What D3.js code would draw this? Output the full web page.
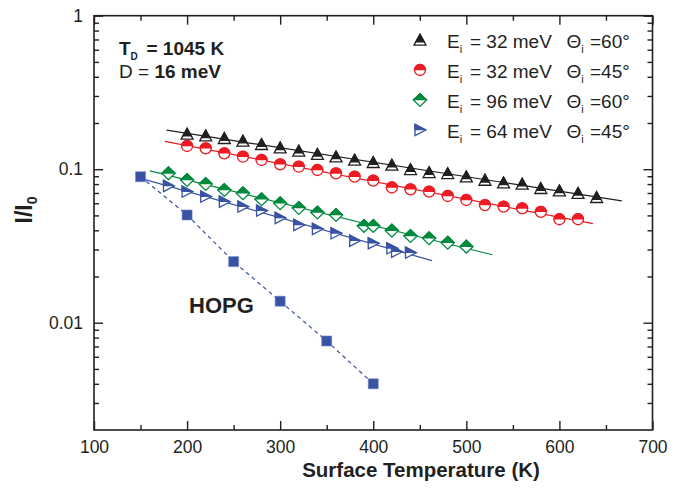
<!DOCTYPE html>
<html><head><meta charset="utf-8">
<script src="https://cdn.jsdelivr.net/npm/d3@7/dist/d3.min.js"></script>
<style>
body{margin:0;background:#fff}
svg{display:block}
text{font-family:"Liberation Sans",Arial,Helvetica,sans-serif;fill:#231f20}
</style>
</head><body>
<svg id="c" width="685" height="491"></svg>
<script>
// ---------------- data ----------------
const tempsBlack = [200,220,240,260,280,300,320,340,360,380,400,420,440,460,480,500,520,540,560,580,600,620,640];
const valsBlack  = [0.1696,0.1653,0.1590,0.1527,0.1453,0.1380,0.1314,0.1251,0.1206,0.1148,0.1109,0.1065,0.0998,0.0954,0.0940,0.0894,0.0850,0.0817,0.0801,0.0751,0.0724,0.0697,0.0656];

const tempsRed = [200,220,240,260,280,300,320,340,360,380,400,420,440,460,480,500,520,540,560,580,600,620];
const valsRed  = [0.1416,0.1368,0.1269,0.1206,0.1148,0.1076,0.1038,0.0988,0.0940,0.0894,0.0842,0.0760,0.0740,0.0714,0.0669,0.0630,0.0584,0.0570,0.0556,0.0528,0.0472,0.0472];

const tempsGreen = [180,200,220,240,260,280,300,320,340,360,390,400,420,440,460,480,500];
const valsGreen  = [0.0940,0.0850,0.0801,0.0732,0.0697,0.0637,0.0600,0.0559,0.0522,0.0503,0.0427,0.0427,0.0398,0.0367,0.0355,0.0332,0.0313];

const tempsBlue = [180,200,220,240,260,280,300,320,340,360,380,400,420,425,440];
const valsBlue  = [0.0777,0.0714,0.0662,0.0614,0.0570,0.0537,0.0481,0.0433,0.0408,0.0382,0.0342,0.0329,0.0305,0.0290,0.0286];

const tempsHOPG = [150,200,250,300,350,400];
const valsHOPG  = [0.0894,0.0503,0.0250,0.0138,0.0076,0.0040];

// temperature span of each exponential fit line
const fitBlack = [178,667];
const fitRed   = [176,636];
const fitGreen = [160,528];
const fitBlue  = [155,463];

const legendEnergy = ["32 meV","32 meV","96 meV","64 meV"];
const legendAngle  = ["60°","45°","60°","45°"];

const xTicksMajor = [100,200,300,400,500,600,700];
const xTicksMinor = [150,250,350,450,550,650];
const yTicksMajor = [1,0.1,0.01];
const yTickLabels = ["1","0.1","0.01"];
const yTicksMinor = [0.003,0.004,0.005,0.006,0.007,0.008,0.009,0.02,0.03,0.04,0.05,0.06,0.07,0.08,0.09,0.2,0.3,0.4,0.5,0.6,0.7,0.8,0.9];

// ---------------- chart ----------------
const L=94,R=652.5,T=15.7,B=430;
const svg=d3.select("#c");
const x=d3.scaleLinear().domain([100,700]).range([L,R]);
const y=d3.scaleLog().domain([0.002,1]).range([B,T]);
const ink="#231f20";

const C={black:"#231f20",red:"#ed1c24",green:"#008a3e",blue:"#3953a4"};

const defs=svg.append("defs");
defs.append("clipPath").attr("id","top").append("rect").attr("x",-12).attr("y",-12).attr("width",24).attr("height",12.3);
defs.append("clipPath").attr("id","topTri").append("rect").attr("x",-12).attr("y",-12).attr("width",24).attr("height",14.6);
defs.append("clipPath").attr("id","plot").append("rect").attr("x",L).attr("y",T).attr("width",R-L).attr("height",B-T);

// axes
function styleAxis(g){g.select(".domain").remove();g.selectAll("line").attr("stroke",ink).attr("stroke-width",1.4);}
function styleText(g){g.selectAll("text").attr("font-size",17.5).attr("fill",ink).attr("font-family",null);}
svg.append("g").attr("transform",`translate(0,${B})`)
  .call(d3.axisBottom(x).tickValues(xTicksMajor).tickSize(-9).tickPadding(11).tickFormat(d3.format("d")))
  .call(styleAxis).call(styleText);
svg.append("g").attr("transform",`translate(0,${B})`)
  .call(d3.axisBottom(x).tickValues(xTicksMinor).tickSize(-5).tickFormat(""))
  .call(styleAxis);
svg.append("g").attr("transform",`translate(0,${T})`)
  .call(d3.axisTop(x).tickValues(xTicksMajor).tickSize(-9).tickFormat(""))
  .call(styleAxis);
svg.append("g").attr("transform",`translate(0,${T})`)
  .call(d3.axisTop(x).tickValues(xTicksMinor).tickSize(-5).tickFormat(""))
  .call(styleAxis);
svg.append("g").attr("transform",`translate(${L},0)`)
  .call(d3.axisLeft(y).tickValues(yTicksMajor).tickSize(-9).tickPadding(11).tickFormat((d,i)=>yTickLabels[i]))
  .call(styleAxis).call(styleText);
svg.append("g").attr("transform",`translate(${L},0)`)
  .call(d3.axisLeft(y).tickValues(yTicksMinor).tickSize(-5).tickFormat(""))
  .call(styleAxis);
svg.append("g").attr("transform",`translate(${R},0)`)
  .call(d3.axisRight(y).tickValues(yTicksMajor).tickSize(-9).tickFormat(""))
  .call(styleAxis);
svg.append("g").attr("transform",`translate(${R},0)`)
  .call(d3.axisRight(y).tickValues(yTicksMinor).tickSize(-5).tickFormat(""))
  .call(styleAxis);

svg.append("rect").attr("x",L).attr("y",T).attr("width",R-L).attr("height",B-T)
  .attr("fill","none").attr("stroke",ink).attr("stroke-width",1.6);

// marker shapes
const shapes={
  triUp:"M0,-5.6L6,5.2L-6,5.2Z",
  circle:"M5.5,0A5.5,5.5 0 1,1 -5.5,0A5.5,5.5 0 1,1 5.5,0Z",
  diamond:"M0,-6.4L6.6,0L0,6.4L-6.6,0Z",
  triRight:"M-5,-5.6L5.8,0L-5,5.6Z",
  square:"M-5,-5H5V5H-5Z"
};
function marker(g,px,py,shape,color){
  const m=g.append("g").attr("transform",`translate(${px},${py})`);
  m.append("path").attr("d",shapes[shape]).attr("fill","#fff").attr("stroke",color).attr("stroke-width",1.3);
  m.append("path").attr("d",shapes[shape]).attr("fill",color).attr("stroke",color).attr("stroke-width",1.3)
    .attr("clip-path",shape==="triUp"?"url(#topTri)":"url(#top)");
}

// fit lines (least squares in log space)
function fit(ts,vs){
  const ly=vs.map(v=>Math.log10(v));
  const mx=d3.mean(ts), my=d3.mean(ly);
  let sxy=0,sxx=0; ts.forEach((t,i)=>{sxy+=(t-mx)*(ly[i]-my);sxx+=(t-mx)*(t-mx);});
  const b=sxy/sxx,a=my-b*mx;
  return t=>Math.pow(10,a+b*t);
}
const line=d3.line().x(d=>x(d[0])).y(d=>y(d[1]));
const series=[
  {t:tempsBlack,v:valsBlack,range:fitBlack,shape:"triUp",c:C.black},
  {t:tempsRed,v:valsRed,range:fitRed,shape:"circle",c:C.red},
  {t:tempsGreen,v:valsGreen,range:fitGreen,shape:"diamond",c:C.green},
  {t:tempsBlue,v:valsBlue,range:fitBlue,shape:"triRight",c:C.blue}
];
const plot=svg.append("g").attr("clip-path","url(#plot)");
series.forEach(s=>{
  const f=fit(s.t,s.v);
  plot.append("path").attr("d",line(s.range.map(t=>[t,f(t)]))).attr("fill","none").attr("stroke",s.c).attr("stroke-width",1.2);
});
// HOPG dashed
plot.append("path").attr("d",line(tempsHOPG.map((t,i)=>[t,valsHOPG[i]])))
  .attr("fill","none").attr("stroke",C.blue).attr("stroke-width",1.2).attr("stroke-dasharray","4,3.5");
series.forEach(s=>{
  s.t.forEach((t,i)=>marker(plot,x(t),y(s.v[i]),s.shape,s.c));
});
tempsHOPG.forEach((t,i)=>{
  plot.append("path").attr("transform",`translate(${x(t)},${y(valsHOPG[i])})`).attr("d",shapes.square)
    .attr("fill",C.blue).attr("stroke","#6f80c0").attr("stroke-width",0.6);
});

// legend
const lg=svg.append("g");
series.forEach((s,i)=>{
  const cy=40+i*30;
  marker(lg,420,cy,s.shape,s.c);
  const t1=lg.append("text").attr("x",447).attr("y",cy+8).attr("font-size",19);
  t1.append("tspan").text("E");
  t1.append("tspan").attr("font-size",11).attr("dy",5).text("i");
  lg.append("text").attr("x",470).attr("y",cy+8).attr("font-size",19).text("= "+legendEnergy[i]);
  const t2=lg.append("text").attr("x",566.5).attr("y",cy+8).attr("font-size",19);
  t2.append("tspan").text("Θ");
  t2.append("tspan").attr("font-size",11).attr("dy",5).text("i");
  lg.append("text").attr("x",590).attr("y",cy+8).attr("font-size",19).text("="+legendAngle[i]);
});

// annotations
const a1=svg.append("text").attr("x",119).attr("y",55).attr("font-size",19).attr("font-weight","bold");
a1.append("tspan").text("T");
a1.append("tspan").attr("font-size",10).attr("dy",5).text("D");
svg.append("text").attr("x",146.5).attr("y",55).attr("font-size",19).attr("font-weight","bold").text("= 1045 K");
const a2=svg.append("text").attr("x",119).attr("y",78).attr("font-size",19);
a2.append("tspan").text("D = ");
a2.append("tspan").attr("font-weight","bold").text("16 meV");

svg.append("text").attr("x",189).attr("y",313).attr("font-size",22).attr("font-weight","bold").text("HOPG");

// axis titles
svg.append("text").attr("x",421).attr("y",477).attr("text-anchor","middle").attr("font-size",20.5).attr("font-weight","bold").text("Surface Temperature (K)");
const yl=svg.append("text").attr("transform","translate(32,210) rotate(-90)").attr("text-anchor","middle").attr("font-size",23).attr("font-weight","bold");
yl.append("tspan").text("I/I");
yl.append("tspan").attr("font-size",14).attr("dy",5).text("0");
</script>
</body></html>
